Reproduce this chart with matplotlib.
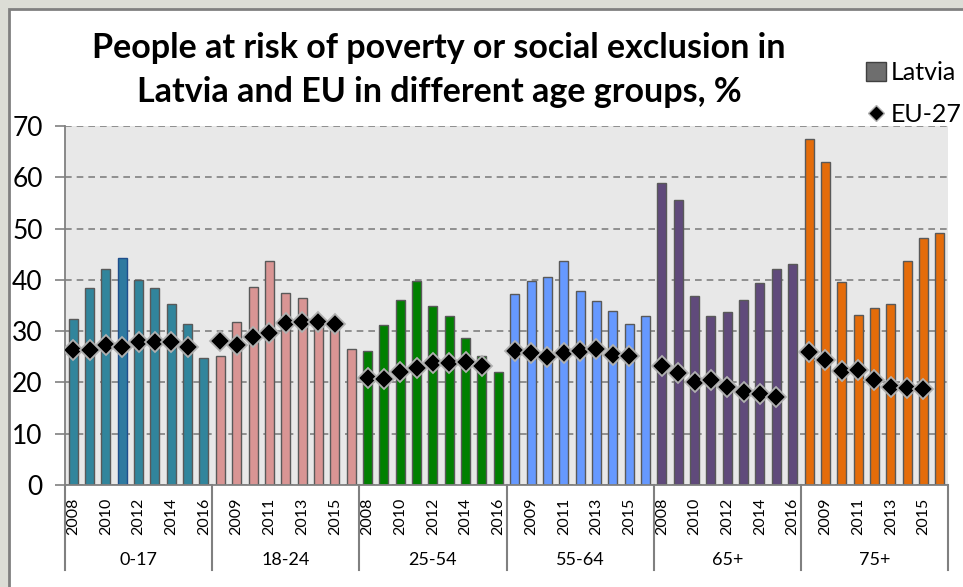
import matplotlib
matplotlib.use("Agg")
import matplotlib.pyplot as plt
import matplotlib.transforms as mtransforms
from matplotlib.patches import Rectangle
from matplotlib.lines import Line2D
import numpy as np

plt.rcParams['font.family'] = ['Lato', 'DejaVu Sans']

years = [2008, 2009, 2010, 2011, 2012, 2013, 2014, 2015, 2016]
groups = ['0-17', '18-24', '25-54', '55-64', '65+', '75+']
colors = ['#31859c', '#d99594', '#008000', '#6699ff', '#604a7b', '#e46c0a']

# Latvia, 2008-2016
lv_0_17 = [32.4, 38.4, 42.2, 44.2, 40.0, 38.4, 35.3, 31.3, 24.7]
lv_18_24 = [25.2, 31.8, 38.7, 43.6, 37.4, 36.5, 31.5, 30.8, 26.6]
lv_25_54 = [26.2, 31.2, 36.1, 39.7, 35.0, 32.9, 28.6, 25.1, 22.1]
lv_55_64 = [37.2, 39.7, 40.6, 43.6, 37.8, 35.8, 33.9, 31.3, 32.9]
lv_65 = [58.8, 55.5, 36.9, 33.0, 33.7, 36.1, 39.3, 42.1, 43.1]
lv_75 = [67.4, 63.0, 39.6, 33.1, 34.6, 35.3, 43.6, 48.1, 49.1]

# EU-27, 2008-2015
eu_0_17 = [26.3, 26.3, 27.3, 26.9, 27.9, 27.8, 27.8, 26.9]
eu_18_24 = [28.1, 27.3, 28.9, 29.7, 31.5, 31.7, 31.8, 31.3]
eu_25_54 = [20.9, 20.7, 22.0, 22.9, 23.7, 23.8, 24.0, 23.2]
eu_55_64 = [26.1, 25.7, 24.9, 25.8, 26.2, 26.6, 25.3, 25.2]
eu_65 = [23.2, 21.9, 20.1, 20.4, 19.1, 18.1, 17.7, 17.2]
eu_75 = [26.0, 24.3, 22.2, 22.5, 20.5, 19.2, 19.0, 18.7]

latvia = [lv_0_17, lv_18_24, lv_25_54, lv_55_64, lv_65, lv_75]
eu = [eu_0_17, eu_18_24, eu_25_54, eu_55_64, eu_65, eu_75]

fig = plt.figure(figsize=(9.63, 5.87), dpi=100)
fig.patch.set_facecolor('#dcddd6')
fig.patches.append(Rectangle((9 / 963, -0.1), 1.1, 1.1 - 9 / 587,
                             transform=fig.transFigure, facecolor='white',
                             edgecolor='#808080', lw=2, zorder=-10))

ax = fig.add_axes([65 / 963, 1 - 485 / 587, (948 - 65) / 963, (485 - 126) / 587])
ax.set_facecolor('#e8e8e8')

n = len(years)
for g, (vals, col) in enumerate(zip(latvia, colors)):
    x = np.arange(n) + g * n
    ec = ['#595959'] * n
    fc = [col] * n
    if g == 0:
        fc[3] = '#2e7aa0'
        ec[3] = '#1f4e8c'
    ax.bar(x, vals, width=0.55, color=fc, edgecolor=ec, lw=1, zorder=2)
    ax.plot(x[:len(eu[g])], eu[g], ls='none', marker='D', ms=10,
            mfc='black', mec='#b0b0b0', mew=1.3, zorder=3)

ax.set_xlim(-0.5, n * len(groups) - 0.5)
ax.set_ylim(0, 70)
ax.set_yticks(range(0, 71, 10))
ax.yaxis.grid(True, ls=(0, (4, 3)), color='#808080', lw=1.2, zorder=1)
ax.set_axisbelow(True)
ax.tick_params(axis='y', labelsize=19, length=7, color='#808080', width=1.2, pad=9)

pos = np.arange(0, n * len(groups), 2)
ax.set_xticks(pos)
ax.set_xticklabels([str(years[p % n]) for p in pos], rotation=90, fontsize=11.5)
ax.tick_params(axis='x', length=0, pad=9)

for s in ['top', 'right']:
    ax.spines[s].set_visible(False)
for s in ['left', 'bottom']:
    ax.spines[s].set_color('#808080')
    ax.spines[s].set_linewidth(1.3)

# group separators and labels under the axis
trans = mtransforms.blended_transform_factory(ax.transData, ax.transAxes)
for g in range(len(groups) + 1):
    xs = g * n - 0.5
    ax.plot([xs, xs], [0, -0.237], transform=trans, color='#808080',
            lw=1.5, clip_on=False)
for g, name in enumerate(groups):
    ax.text(g * n + (n - 1) / 2, -0.21, name, transform=trans,
            ha='center', va='center', fontsize=13)

fig.text(439 / 963, 1 - 48 / 587, 'People at risk of poverty or social exclusion in',
         ha='center', va='center', fontsize=24.5, fontweight='bold')
fig.text(439 / 963, 1 - 92 / 587, 'Latvia and EU in different age groups, %',
         ha='center', va='center', fontsize=24.5, fontweight='bold')

handles = [Rectangle((0, 0), 1, 1, facecolor='#6e6e6e', edgecolor='#404040'),
           Line2D([], [], ls='none', marker='D', ms=8, mfc='black', mec='#b0b0b0')]
fig.legend(handles, ['Latvia', 'EU-27'], loc='upper left',
           bbox_to_anchor=(866 / 963, 1 - 61 / 587), frameon=False,
           fontsize=18, handlelength=0.8, handleheight=0.8, handletextpad=0.2,
           labelspacing=0.75, borderaxespad=0, borderpad=0)

fig.savefig('out.png', dpi=100, facecolor=fig.get_facecolor())
